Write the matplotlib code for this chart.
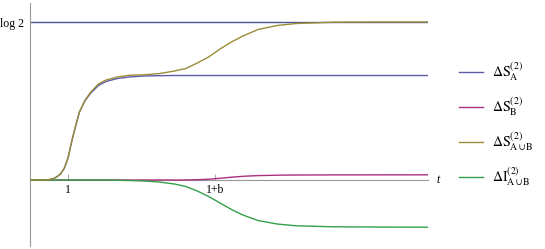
import numpy as np
import matplotlib
matplotlib.use("Agg")
import matplotlib.pyplot as plt

plt.rcParams['mathtext.fontset'] = 'stix'
plt.rcParams['font.family'] = ['Liberation Serif', 'DejaVu Serif']

LOG2 = np.log(2)
b = 3.87

# data (t, value in nats)
t_main = [0, 0.4, 0.5, 0.6, 0.7, 0.8, 0.9, 1.0, 1.1, 1.2, 1.3, 1.45, 1.6, 1.8,
          2.0, 2.3, 2.6, 3.0, 3.4, 3.8, 4.1, 4.4, 4.7, 5.0, 5.3, 5.6, 6.0,
          6.5, 7.0, 8.0, 9.0, 10.47]
S_AB = [0, 0, 0.0018, 0.0053, 0.0132, 0.0263, 0.0504, 0.0965, 0.1711, 0.2369,
        0.2983, 0.3510, 0.3861, 0.4212, 0.4387, 0.4519, 0.4593, 0.4615, 0.4668,
        0.4782, 0.4892, 0.5133, 0.5396, 0.5747, 0.6054, 0.6317, 0.6602, 0.6778,
        0.6866, 0.6923, 0.6931, 0.6931]
S_A = [0, 0, 0.0018, 0.0053, 0.0132, 0.0263, 0.0504, 0.0965, 0.1711, 0.2369,
       0.2983, 0.3488, 0.3817, 0.4146, 0.4321, 0.4453, 0.4519, 0.4562, 0.4576,
       0.4584, 0.4584, 0.4584, 0.4584, 0.4584, 0.4584, 0.4584, 0.4584, 0.4584,
       0.4584, 0.4584, 0.4584, 0.4584]

t_B = [0, 4.0, 4.4, 4.7, 5.0, 5.3, 5.6, 6.0, 6.5, 7.0, 8.0, 10.47]
S_B = [0, 0, 0.0013, 0.0035, 0.0075, 0.0123, 0.0162, 0.0193, 0.0211, 0.0219,
       0.0224, 0.0228]

t_I = [0, 2.0, 2.6, 3.0, 3.4, 3.8, 4.1, 4.4, 4.7, 5.0, 5.3, 5.6, 6.0, 6.5,
       7.0, 8.0, 9.0, 10.47]
I_AB = [0, 0, -0.0022, -0.0044, -0.0088, -0.0175, -0.0285, -0.0483, -0.0724,
        -0.1009, -0.1294, -0.1535, -0.1777, -0.1930, -0.2009, -0.2053, -0.2062,
        -0.2071]

labels = [r'$\Delta\mathrm{S}_{\mathrm{A}}^{(2)}$',
          r'$\Delta\mathrm{S}_{\mathrm{B}}^{(2)}$',
          r'$\Delta\mathrm{S}_{\mathrm{A\cup B}}^{(2)}$',
          r'$\Delta\mathrm{I}_{\mathrm{A\cup B}}^{(2)}$']
colors = ['#5c5cab', '#a8307c', '#9a8c38', '#35a04a']
xticks = [1, 1 + b]
xticklabels = ['1', '1+b']

fig = plt.figure(figsize=(5.45, 2.49), dpi=100)
ax = fig.add_axes([30/545, 3/249, 398/545, 243/249])

ax.axhline(LOG2, color='#4a5890', lw=1.0, zorder=1)
l1, = ax.plot(t_main, S_A, color=colors[0], lw=1.0, label=labels[0], zorder=3)
l2, = ax.plot(t_B, S_B, color=colors[1], lw=1.0, label=labels[1], zorder=3)
l3, = ax.plot(t_main, S_AB, color=colors[2], lw=1.0, label=labels[2], zorder=4)
l4, = ax.plot(t_I, I_AB, color=colors[3], lw=1.0, label=labels[3], zorder=3)

ax.set_xlim(0, 10.47)
ax.set_ylim(-0.2895, 0.7765)

for s in ['top', 'right']:
    ax.spines[s].set_visible(False)
ax.spines['bottom'].set_position(('data', 0))
ax.spines['left'].set_position(('data', 0))
for s in ['bottom', 'left']:
    ax.spines[s].set_color('#999999')
    ax.spines[s].set_linewidth(0.8)
ax.spines['bottom'].set_zorder(2)

ax.set_xticks(xticks)
ax.set_xticklabels(xticklabels, fontsize=8.5)
ax.tick_params(axis='x', direction='in', length=4, width=0.6, color='#999999', pad=3)
ax.set_yticks([LOG2])
ax.set_yticklabels(['log 2'], fontsize=8.5)
ax.tick_params(axis='y', length=0, pad=4)

ax.annotate('t', xy=(1, 0), xycoords=('axes fraction', 'data'),
            xytext=(10, 0), textcoords='offset pixels', fontsize=8.5,
            style='italic', ha='center', va='center')

fig.legend(handles=[l1, l2, l3, l4], labels=labels, loc='upper left',
           bbox_to_anchor=(459/545, 1 - 60/249), frameon=False, borderpad=0,
           borderaxespad=0, fontsize=10, handlelength=1.75, handletextpad=0.65,
           labelspacing=0.9)

fig.savefig('out.png', dpi=100)
